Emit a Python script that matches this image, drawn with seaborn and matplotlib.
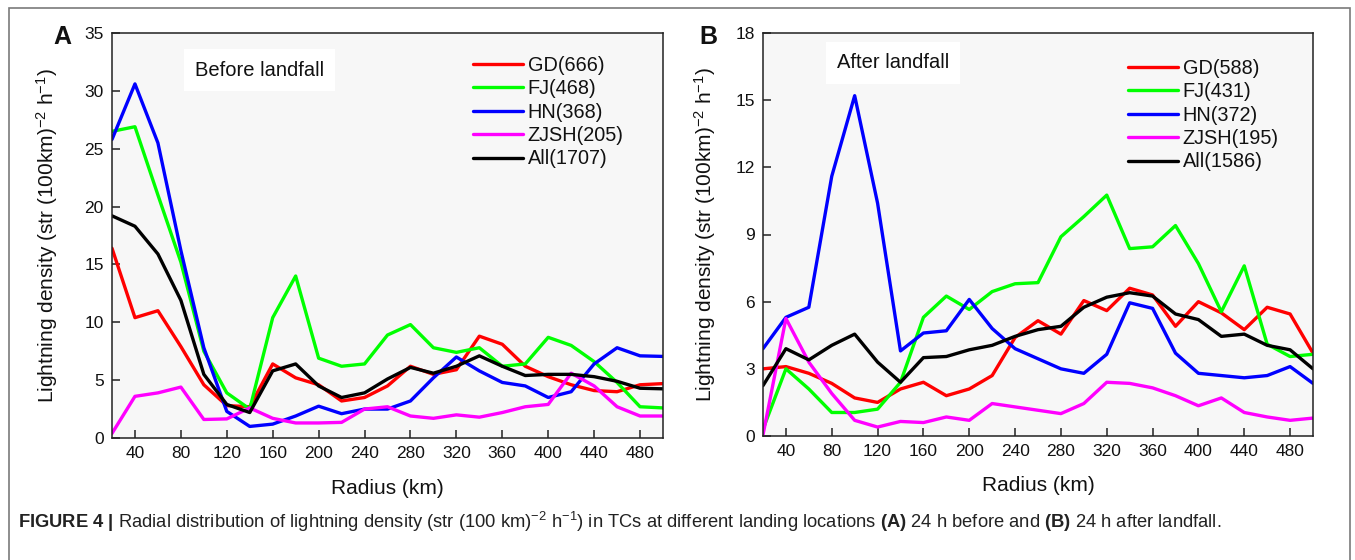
import numpy as np
import pandas as pd
import seaborn as sns
import matplotlib
matplotlib.use("Agg")
import matplotlib.pyplot as plt
from matplotlib.patches import Rectangle
from matplotlib.lines import Line2D

# ---------------- data ----------------
radius = [20, 40, 60, 80, 100, 120, 140, 160, 180, 200, 220, 240, 260,
          280, 300, 320, 340, 360, 380, 400, 420, 440, 460, 480, 500]

series_names = ["GD", "FJ", "HN", "ZJSH", "All"]
labels_a = ["GD(666)", "FJ(468)", "HN(368)", "ZJSH(205)", "All(1707)"]
labels_b = ["GD(588)", "FJ(431)", "HN(372)", "ZJSH(195)", "All(1586)"]

gd_a = [16.4, 10.4, 11.0, 7.9, 4.6, 2.8, 2.7, 6.4, 5.2, 4.6, 3.2, 3.5, 4.5,
        6.2, 5.5, 5.9, 8.8, 8.1, 6.2, 5.3, 4.6, 4.1, 4.0, 4.6, 4.7]
fj_a = [26.5, 26.9, 21.0, 15.2, 7.5, 3.9, 2.5, 10.4, 14.0, 6.9, 6.2, 6.4, 8.9,
        9.8, 7.8, 7.4, 7.8, 6.2, 6.4, 8.7, 8.0, 6.6, 4.8, 2.7, 2.6]
hn_a = [25.8, 30.6, 25.5, 16.2, 7.8, 2.3, 1.0, 1.2, 1.9, 2.75, 2.1, 2.5, 2.5,
        3.2, 5.2, 7.0, 5.8, 4.8, 4.5, 3.5, 4.0, 6.4, 7.8, 7.1, 7.05]
zj_a = [0.4, 3.6, 3.9, 4.4, 1.6, 1.65, 2.6, 1.7, 1.3, 1.3, 1.35, 2.5, 2.7,
        1.9, 1.7, 2.0, 1.8, 2.2, 2.7, 2.9, 5.6, 4.5, 2.7, 1.9, 1.9]
all_a = [19.2, 18.3, 15.9, 11.9, 5.5, 2.9, 2.2, 5.8, 6.4, 4.5, 3.5, 3.9, 5.1,
         6.1, 5.6, 6.2, 7.1, 6.2, 5.4, 5.5, 5.5, 5.3, 4.9, 4.3, 4.25]

gd_b = [3.0, 3.1, 2.8, 2.35, 1.7, 1.5, 2.1, 2.4, 1.8, 2.1, 2.7, 4.4, 5.15,
        4.55, 6.05, 5.6, 6.6, 6.3, 4.9, 6.0, 5.5, 4.75, 5.75, 5.45, 3.7]
fj_b = [0.3, 3.0, 2.1, 1.05, 1.05, 1.2, 2.4, 5.3, 6.25, 5.65, 6.45, 6.8, 6.85,
        8.9, 9.8, 10.76, 8.37, 8.45, 9.4, 7.7, 5.55, 7.6, 4.1, 3.55, 3.65]
hn_b = [3.9, 5.3, 5.75, 11.6, 15.2, 10.4, 3.8, 4.6, 4.7, 6.1, 4.8, 3.9, 3.45,
        3.0, 2.8, 3.65, 5.95, 5.7, 3.7, 2.8, 2.7, 2.6, 2.7, 3.1, 2.35]
zj_b = [0.05, 5.25, 3.3, 1.9, 0.7, 0.4, 0.65, 0.6, 0.85, 0.7, 1.45, 1.3, 1.15,
        1.0, 1.45, 2.4, 2.35, 2.15, 1.8, 1.35, 1.7, 1.05, 0.85, 0.7, 0.8]
all_b = [2.25, 3.9, 3.4, 4.05, 4.55, 3.3, 2.4, 3.5, 3.55, 3.85, 4.05, 4.45, 4.75,
         4.9, 5.75, 6.2, 6.4, 6.25, 5.45, 5.2, 4.45, 4.55, 4.05, 3.85, 3.0]

colors = {"GD": "#ff0000", "FJ": "#00ff00", "HN": "#0000ff",
          "ZJSH": "#ff00ff", "All": "#000000"}


def make_df(vals):
    rows = []
    for name, v in zip(series_names, vals):
        for r, y in zip(radius, v):
            rows.append({"Radius": r, "value": y, "series": name})
    return pd.DataFrame(rows)


df_a = make_df([gd_a, fj_a, hn_a, zj_a, all_a])
df_b = make_df([gd_b, fj_b, hn_b, zj_b, all_b])

# ---------------- style ----------------
sns.set_theme(style="ticks")
plt.rcParams["font.family"] = ["Liberation Sans", "DejaVu Sans"]
plt.rcParams["mathtext.fontset"] = "custom"
plt.rcParams["mathtext.rm"] = "Liberation Sans"
plt.rcParams["mathtext.it"] = "Liberation Sans:italic"
plt.rcParams["mathtext.bf"] = "Liberation Sans:bold"

W, H = 1355, 560
fig = plt.figure(figsize=(W / 100, H / 100), dpi=100)
fig.patch.set_facecolor("white")

# outer frame
frame = Rectangle((9 / W, -0.05), (1350 - 9) / W, 1.05 - 8 / H,
                  transform=fig.transFigure, fill=False,
                  edgecolor="#7a7a7a", linewidth=1.2)
fig.add_artist(frame)

ax_a = fig.add_axes([112 / W, 1 - 438 / H, (663 - 112) / W, (438 - 33) / H])
ax_b = fig.add_axes([763 / W, 1 - 436 / H, (1313 - 763) / W, (436 - 33) / H])

ylabel = r"Lightning density (str (100km)$^{-2}$ h$^{-1}$)"


def style_axes(ax, df, ymax, ystep, labels, title, tx, ty, leg_x, leg_y, ylab_x):
    ax.set_facecolor("#f7f7f7")
    sns.lineplot(data=df, x="Radius", y="value", hue="series",
                 hue_order=series_names, palette=colors, ax=ax,
                 linewidth=2.4, legend=False)
    ax.set_xlim(20, 500)
    ax.set_ylim(0, ymax)
    ax.set_xticks(np.arange(40, 500, 40))
    ax.set_yticks(np.arange(0, ymax + 0.1, ystep))
    ax.tick_params(direction="in", length=6, width=1.1, labelsize=12.5,
                   color="#222222", labelcolor="#111111")
    ax.tick_params(axis="x", pad=6)
    ax.tick_params(axis="y", pad=6)
    for s in ax.spines.values():
        s.set_visible(True)
        s.set_linewidth(1.1)
        s.set_color("#222222")
    ax.set_xlabel("Radius (km)", fontsize=15, color="#111111")
    ax.set_ylabel(ylabel, fontsize=15, color="#111111")
    ax.xaxis.set_label_coords(0.5, -0.1)
    ax.yaxis.set_label_coords(ylab_x, 0.5)
    ax.text(tx, ty, title, transform=ax.transAxes, fontsize=14.5,
            ha="left", va="center", color="#111111",
            bbox=dict(facecolor="white", edgecolor="none", pad=8))
    handles = [Line2D([], [], color=colors[n], linewidth=2.4) for n in series_names]
    leg = ax.legend(handles, labels, loc="upper left",
                    bbox_to_anchor=(leg_x, leg_y), frameon=False,
                    fontsize=14.3, handlelength=2.5, handletextpad=0.25,
                    labelspacing=0.22, borderpad=0, borderaxespad=0)
    for t in leg.get_texts():
        t.set_color("#111111")


style_axes(ax_a, df_a, 35, 5, labels_a, "Before landfall",
           (195 - 112) / 551, (438 - 70) / 405, (473 - 112) / 551,
           (438 - 56) / 405, (60 - 112) / 551)
style_axes(ax_b, df_b, 18, 3, labels_b, "After landfall",
           (837 - 763) / 550, (436 - 63) / 403, (1128 - 763) / 550,
           (436 - 59) / 403, (718 - 763) / 550)

fig.text(62 / W, 1 - 37 / H, "A", fontsize=18, fontweight="bold",
         ha="center", va="center", color="#111111")
fig.text(708 / W, 1 - 37 / H, "B", fontsize=18, fontweight="bold",
         ha="center", va="center", color="#111111")

caption = (r"$\mathbf{FIGURE\ 4\ |}$ Radial distribution of lightning density "
           r"(str (100 km)$^{-2}$ h$^{-1}$) in TCs at different landing locations "
           r"$\mathbf{(A)}$ 24 h before and $\mathbf{(B)}$ 24 h after landfall.")
fig.text(18 / W, 1 - 522 / H, caption, fontsize=13.2, ha="left", va="center",
         color="#222222")

fig.savefig("out.png", dpi=100)
